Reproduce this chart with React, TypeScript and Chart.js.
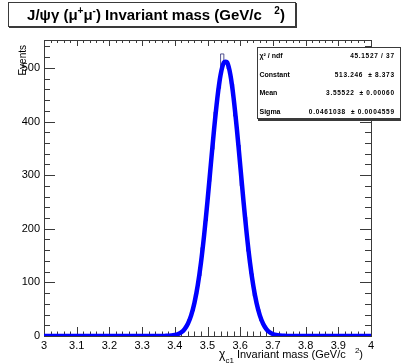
import React, { useEffect, useRef } from "react";
import { Chart, registerables } from "chart.js";

Chart.register(...registerables);

// ---- data ----
const X_MIN = 3.0;
const X_MAX = 4.0;
const BIN_WIDTH = 0.01;
const Y_MAX = 552;

// histogram bin contents, 100 bins of 0.01 GeV from 3.00 to 4.00
const histCounts = [
  0, 0, 0, 0, 0, 0, 0, 0, 0, 0,
  0, 0, 0, 0, 0, 0, 0, 0, 0, 0,
  0, 0, 0, 0, 0, 0, 0, 0, 0, 0,
  0, 0, 0, 0, 0, 0, 0, 0, 1, 1,
  3, 5, 10, 18, 31, 47, 78, 112, 165, 215,
  288, 348, 418, 462, 526, 510, 498, 470, 410, 356,
  280, 222, 158, 116, 74, 50, 28, 18, 9, 5,
  3, 1, 1, 0, 0, 0, 0, 0, 0, 0,
  0, 0, 0, 0, 0, 0, 0, 0, 0, 0,
  0, 0, 0, 0, 0, 0, 0, 0, 0, 0,
];

// Gaussian fit curve sampled at the 101 bin edges (3.00 ... 4.00)
const fitValues = [
  0, 0, 0, 0, 0, 0, 0, 0, 0, 0,
  0, 0, 0, 0, 0, 0, 0, 0, 0, 0,
  0, 0, 0, 0, 0, 0, 0, 0, 0, 0,
  0, 0, 0, 0, 0, 0, 0, 0.2, 0.4, 0.8,
  1.8, 3.6, 7.0, 13.0, 22.9, 38.4, 61.4, 93.8, 136.6, 190.0,
  251.9, 318.7, 384.7, 443.1, 486.8, 510.0, 510.4, 486.8, 443.1, 384.7,
  318.7, 251.9, 190.0, 136.6, 93.8, 61.4, 38.4, 22.9, 13.0, 7.0,
  3.6, 1.8, 0.8, 0.4, 0.2, 0, 0, 0, 0, 0,
  0, 0, 0, 0, 0, 0, 0, 0, 0, 0,
  0, 0, 0, 0, 0, 0, 0, 0, 0, 0,
  0,
];

const xTickLabels = ["3", "3.1", "3.2", "3.3", "3.4", "3.5", "3.6", "3.7", "3.8", "3.9", "4"];
const yTickLabels = ["0", "100", "200", "300", "400", "500"];
const X_MINOR_STEP = 0.02;
const Y_MINOR_STEP = 20;

const statsLabels = ["χ² / ndf", "Constant", "Mean", "Sigma"];
const statsValues = ["45.1527 / 37", "513.246  ± 8.373", "3.55522  ± 0.00060", "0.0461038  ± 0.0004559"];

const FONT = '"Liberation Sans", Arial, Helvetica, sans-serif';

type Seg = { text: string; size: number; bold?: boolean; dy?: number };

function segFont(s: Seg) {
  return `${s.bold ? "bold " : ""}${s.size}px ${FONT}`;
}

function drawRich(ctx: CanvasRenderingContext2D, segs: Seg[], x: number, y: number, align: "left" | "center" | "right") {
  let total = 0;
  const widths = segs.map((s) => {
    ctx.font = segFont(s);
    const w = ctx.measureText(s.text).width;
    total += w;
    return w;
  });
  let cx = align === "left" ? x : align === "center" ? x - total / 2 : x - total;
  ctx.textAlign = "left";
  ctx.textBaseline = "alphabetic";
  segs.forEach((s, i) => {
    ctx.font = segFont(s);
    ctx.fillText(s.text, cx, y + (s.dy || 0));
    cx += widths[i];
  });
}

const titleSegs: Seg[] = [
  { text: "J/ψγ (μ", size: 15, bold: true },
  { text: "+", size: 10, bold: true, dy: -6 },
  { text: "μ", size: 15, bold: true },
  { text: "-", size: 10, bold: true, dy: -6 },
  { text: ") Invariant mass (GeV/c   ", size: 15, bold: true },
  { text: "2", size: 10, bold: true, dy: -6 },
  { text: ")", size: 15, bold: true },
];

const xTitleSegs: Seg[] = [
  { text: "χ", size: 12 },
  { text: "c1", size: 8, dy: 5 },
  { text: " Invariant mass (GeV/c   ", size: 11 },
  { text: "2", size: 8, dy: -5 },
  { text: ")", size: 11 },
];

const rootPlugin = {
  id: "rootStyle",
  beforeDatasetsDraw(chart: any) {
    const { ctx, chartArea: a, scales } = chart;
    const xs = scales.x;
    const ys = scales.y;
    ctx.save();
    ctx.fillStyle = "#fff";
    ctx.fillRect(0, 0, chart.width, chart.height);
    ctx.strokeStyle = "#3a3a3a";
    ctx.lineWidth = 1;
    ctx.strokeRect(a.left + 0.5, a.top + 0.5, a.right - a.left, a.bottom - a.top);

    ctx.beginPath();
    const nx = Math.round((X_MAX - X_MIN) / X_MINOR_STEP);
    for (let i = 0; i <= nx; i++) {
      const v = X_MIN + i * X_MINOR_STEP;
      const px = Math.round(xs.getPixelForValue(v)) + 0.5;
      const major = i % 5 === 0;
      ctx.moveTo(px, a.bottom);
      ctx.lineTo(px, a.bottom - (major ? 9 : 4.5));
      ctx.moveTo(px, a.top);
      ctx.lineTo(px, a.top + (major ? 6 : 3));
    }
    for (let v = 0; v <= Y_MAX; v += Y_MINOR_STEP) {
      const py = Math.round(ys.getPixelForValue(v)) + 0.5;
      const major = v % 100 === 0;
      ctx.moveTo(a.left, py);
      ctx.lineTo(a.left + (major ? 11 : 6), py);
      ctx.moveTo(a.right, py);
      ctx.lineTo(a.right - (major ? 11 : 6), py);
    }
    ctx.stroke();

    ctx.fillStyle = "#000";
    ctx.font = `11px ${FONT}`;
    ctx.textAlign = "center";
    ctx.textBaseline = "alphabetic";
    xTickLabels.forEach((t) => {
      ctx.fillText(t, xs.getPixelForValue(parseFloat(t)), 348.5);
    });
    ctx.textAlign = "right";
    ctx.textBaseline = "middle";
    yTickLabels.forEach((t) => {
      ctx.fillText(t, a.left - 4, ys.getPixelForValue(parseFloat(t)));
    });

    drawRich(ctx, xTitleSegs, 363, 358, "right");
    ctx.save();
    ctx.translate(25.5, 45);
    ctx.rotate(-Math.PI / 2);
    ctx.font = `10px ${FONT}`;
    ctx.textAlign = "right";
    ctx.textBaseline = "alphabetic";
    ctx.fillText("Events", 0, 0);
    ctx.restore();
    ctx.restore();
  },
  afterDraw(chart: any) {
    const { ctx } = chart;
    ctx.save();
    ctx.fillStyle = "#fff";
    ctx.fillRect(8, 2, 287, 25);
    ctx.strokeStyle = "#3a3a3a";
    ctx.lineWidth = 1;
    ctx.strokeRect(8.5, 2.5, 287, 24);
    ctx.fillStyle = "#3a3a3a";
    ctx.fillRect(9, 27, 288, 1);
    ctx.fillRect(296, 3, 1, 25);
    ctx.fillStyle = "#000";
    drawRich(ctx, titleSegs, 156, 20, "center");

    ctx.fillStyle = "#fff";
    ctx.fillRect(257, 47, 144, 72);
    ctx.strokeStyle = "#3a3a3a";
    ctx.strokeRect(257.5, 47.5, 143, 71);
    ctx.fillStyle = "#3a3a3a";
    ctx.fillRect(258, 119, 143, 2);
    ctx.fillStyle = "#000";
    const rows = [57.5, 76.5, 95, 113.5];
    statsLabels.forEach((lab, i) => {
      ctx.textBaseline = "alphabetic";
      ctx.font = `bold 7px ${FONT}`;
      (ctx as any).letterSpacing = "0px";
      ctx.textAlign = "left";
      ctx.fillText(lab, 259.5, rows[i]);
      ctx.font = `bold 6.5px ${FONT}`;
      (ctx as any).letterSpacing = "0.7px";
      ctx.textAlign = "right";
      ctx.fillText(statsValues[i], 394.7, rows[i]);
    });
    (ctx as any).letterSpacing = "0px";
    ctx.restore();
  },
};

export default function App() {
  const ref = useRef<HTMLCanvasElement | null>(null);
  useEffect(() => {
    if (!ref.current) return;
    // one point per bin upper edge (plus the lower edge of the first bin);
    // "after" stepping draws each bin's content across its own bin
    const histData = [{ x: X_MIN, y: histCounts[0] }].concat(
      histCounts.map((c, i) => ({ x: X_MIN + (i + 1) * BIN_WIDTH, y: c }))
    );
    const fitData = fitValues.map((v, i) => ({ x: X_MIN + i * BIN_WIDTH, y: v }));
    const chart = new Chart(ref.current, {
      type: "line",
      data: {
        datasets: [
          {
            label: "fit",
            data: fitData,
            borderColor: "#0000ff",
            borderWidth: 4.5,
            pointRadius: 0,
            tension: 0.3,
            fill: false,
          },
          {
            label: "hist",
            data: histData,
            borderColor: "rgba(30,30,110,0.75)",
            borderWidth: 1,
            pointRadius: 0,
            stepped: "after",
            fill: false,
          },
        ],
      },
      options: {
        animation: false,
        responsive: false,
        devicePixelRatio: 1,
        layout: { padding: { left: 44, right: 30, top: 40, bottom: 27 } },
        plugins: { legend: { display: false }, tooltip: { enabled: false }, title: { display: false } },
        scales: {
          x: { type: "linear", min: X_MIN, max: X_MAX, display: false },
          y: { type: "linear", min: 0, max: Y_MAX, display: false },
        },
      },
      plugins: [rootPlugin],
    });
    return () => chart.destroy();
  }, []);
  return (
    <div style={{ position: "absolute", left: 0, top: 0, width: 401, height: 363 }}>
      <canvas ref={ref} width={401} height={363} style={{ width: 401, height: 363, display: "block" }} />
    </div>
  );
}
